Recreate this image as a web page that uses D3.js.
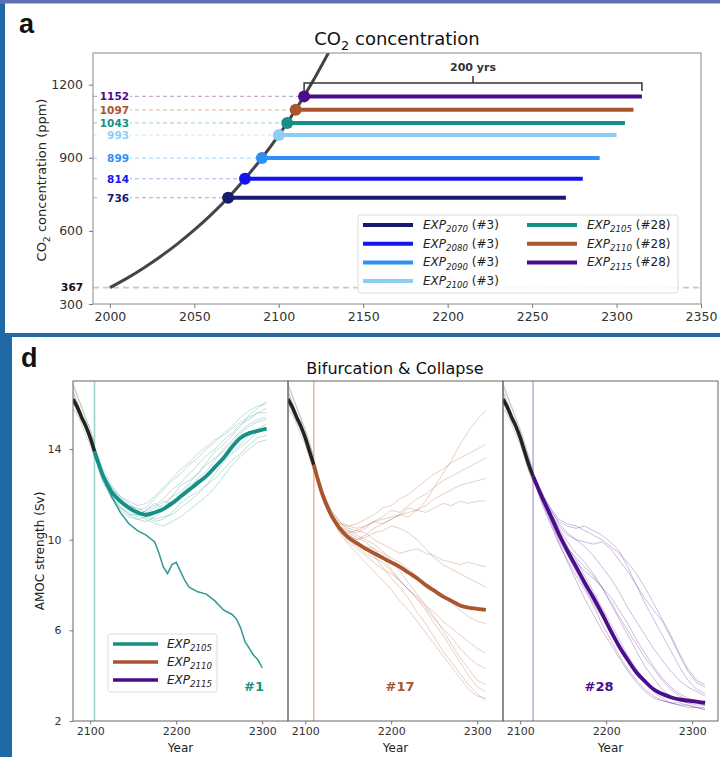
<!DOCTYPE html>
<html><head><meta charset="utf-8">
<script src="https://cdn.jsdelivr.net/npm/d3@7"></script>
<style>body{margin:0;background:#1f69a6;} svg{display:block;font-family:"DejaVu Sans",sans-serif;}</style>
</head><body><svg id="c" width="720" height="757"></svg>
<script>
// ---------------- DATA: panel a ----------------
const co2Years  = [2000,2010,2020,2030,2040,2050,2060,2070,2080,2090,2100,2110,2120,2130];
const co2Values = [367,405,448,495,547,604,667,736,814,899,993,1097,1212,1338];
const expStart  = [2070,2080,2090,2100,2105,2110,2115];
const expCO2    = [736,814,899,993,1043,1097,1152];
const expMember = ["#3","#3","#3","#3","#28","#28","#28"];
const expDuration = 200;
const baselineCO2 = 367;
const xTicksA = [2000,2050,2100,2150,2200,2250,2300,2350];
const yTicksA = [300,600,900,1200];

// ---------------- DATA: panel d ----------------
const dExperiments = [2105,2110,2115];
const dMemberLabel = ["#1","#17","#28"];
const xTicksD = [2100,2200,2300];
const yTicksD = [2,6,10,14];
const preYears = [2080,2085,2090,2095,2100,2105,2110,2115];
const preMean  = [16.2,15.85,15.4,15.0,14.5,13.9,13.3,12.8];
const preEnsemble = [
 [16.8,16.3,15.9,15.3,14.9,14.3,13.6,13.1],
 [16.5,16.1,15.5,15.2,14.6,14.1,13.5,12.9],
 [16.0,15.7,15.2,14.9,14.3,13.7,13.1,12.5],
 [15.8,15.5,15.1,14.6,14.2,13.6,13.0,12.6],
 [16.6,15.9,15.6,14.9,14.4,13.9,13.4,12.7],
 [16.3,16.0,15.3,15.1,14.7,14.0,13.2,12.9],
 [16.1,15.6,15.4,14.8,14.5,13.8,13.5,12.6],
 [16.9,16.4,15.8,15.4,14.8,14.2,13.7,13.0]
];
// post-start values every 10 years from start year to start+200
const mean2105 = [13.9,12.8,12.1,11.7,11.4,11.2,11.1,11.2,11.35,11.6,11.9,12.2,12.5,12.8,13.2,13.6,14.1,14.5,14.7,14.8,14.9];
const ens2105 = [
 [13.9,12.9,12.3,11.9,11.6,11.3,11.4,11.8,12.2,12.6,12.9,13.3,13.6,14.0,14.3,14.7,15.0,15.4,15.7,15.9,16.0],
 [13.8,12.6,11.8,11.3,11.0,10.9,10.8,11.0,11.3,11.5,11.8,12.2,12.7,13.0,13.5,14.0,14.4,14.8,15.1,15.3,15.4],
 [14.0,13.0,12.2,11.8,11.5,11.3,11.1,10.9,11.0,11.1,11.4,11.7,12.0,12.4,12.7,13.1,13.5,13.8,14.2,14.5,14.6],
 [13.7,12.5,11.9,11.4,11.2,11.0,11.3,11.6,11.4,11.9,12.4,12.6,12.9,13.4,13.9,14.2,14.6,15.0,15.5,15.8,16.1],
 [13.9,12.7,12.0,11.6,11.3,11.1,10.9,10.7,10.6,10.8,11.0,11.3,11.6,11.9,12.3,12.8,13.3,13.7,14.0,14.3,14.4],
 [14.1,13.1,12.4,11.9,11.7,11.5,11.6,11.9,12.3,12.7,13.1,13.4,13.8,14.1,14.4,14.6,14.9,15.2,15.4,15.6,15.8],
 [13.8,12.8,12.1,11.5,11.1,10.9,11.0,11.2,11.6,11.9,12.1,12.5,12.9,13.3,13.6,13.9,14.3,14.7,15.0,15.2,15.3],
 [13.9,12.9,12.2,11.7,11.4,11.2,11.0,10.8,10.9,11.2,11.6,11.9,12.1,12.4,12.9,13.4,13.8,14.1,14.4,14.8,14.9],
 [13.8,12.7,11.9,11.4,11.1,11.1,11.3,11.5,11.8,12.2,12.5,12.9,13.3,13.7,14.0,14.4,14.7,15.1,15.3,15.6,15.6],
 [14.0,12.9,12.3,11.8,11.5,11.4,11.2,11.4,11.7,11.6,12.0,12.4,12.6,12.8,13.1,13.5,13.9,14.2,14.6,14.9,15.1]
];
const collapseYears  = [2105,2115,2125,2135,2145,2155,2165,2175,2180,2185,2190,2195,2200,2205,2210,2215,2225,2235,2245,2255,2265,2270,2275,2280,2285,2290,2295,2300];
const collapseValues = [13.9,12.8,11.9,11.2,10.7,10.4,10.2,9.9,9.4,8.8,8.5,8.9,9.0,8.6,8.2,7.9,7.7,7.6,7.3,6.9,6.7,6.5,6.1,5.5,5.2,4.9,4.7,4.35];

const mean2110 = [13.3,12.0,11.1,10.5,10.1,9.85,9.6,9.4,9.2,9.0,8.8,8.55,8.3,8.0,7.75,7.5,7.3,7.1,7.0,6.95,6.9];
const ens2110 = [
 [13.3,12.1,11.3,10.8,10.6,10.5,10.6,10.8,10.9,11.0,11.1,11.2,11.3,11.7,12.3,12.9,13.5,14.2,14.8,15.3,15.7],
 [13.2,12.0,11.1,10.7,10.6,10.7,10.9,11.1,11.4,11.5,11.8,12.0,12.3,12.6,12.9,13.1,13.4,13.6,13.8,14.0,14.2],
 [13.4,12.2,11.3,10.8,10.4,10.3,10.5,10.8,11.0,11.3,11.2,11.5,11.8,12.0,12.3,12.6,12.8,13.0,13.2,13.4,13.6],
 [13.3,12.0,11.2,10.6,10.2,10.0,10.2,10.5,10.7,10.9,11.1,11.0,11.3,11.5,11.8,12.0,12.2,12.4,12.5,12.6,12.7],
 [13.2,11.9,11.0,10.5,10.3,10.4,10.6,10.8,10.7,10.9,11.1,11.4,11.3,11.2,11.4,11.6,11.5,11.7,11.6,11.7,11.7],
 [13.3,12.1,11.2,10.6,10.2,10.0,10.1,10.3,10.4,10.6,10.5,10.3,10.0,9.6,9.2,8.9,8.7,8.5,8.3,8.1,7.9],
 [13.3,12.0,11.0,10.4,10.0,9.7,9.4,9.2,9.0,8.6,8.2,7.8,7.5,7.1,6.8,6.4,6.1,5.8,5.5,5.2,5.0],
 [13.2,11.9,11.0,10.3,9.8,9.4,9.0,8.6,8.2,7.8,7.3,6.9,6.4,5.9,5.4,4.9,4.4,3.9,3.4,3.1,3.0],
 [13.4,12.1,11.1,10.5,10.1,9.8,9.6,9.3,8.8,8.3,7.9,7.4,6.8,6.3,5.7,5.1,4.6,4.1,3.6,3.2,2.9],
 [13.3,12.1,11.2,10.6,10.3,10.1,9.9,9.6,9.2,8.7,8.2,7.8,7.4,6.9,6.3,5.8,5.2,4.6,4.0,3.5,3.3],
 [13.2,12.0,11.1,10.6,10.4,10.2,10.0,9.8,9.5,9.1,8.6,8.1,7.6,7.1,6.6,6.0,5.4,4.8,4.3,3.8,3.6],
 [13.3,11.9,11.0,10.4,9.9,9.6,9.3,9.0,8.7,8.5,8.2,7.8,7.4,7.0,6.5,6.1,5.7,5.2,4.8,4.5,4.3],
 [13.3,12.1,11.2,10.7,10.5,10.4,10.3,10.0,9.8,9.6,9.4,9.5,9.6,9.4,9.3,9.1,9.0,8.9,9.0,8.9,8.8],
 [13.2,12.0,11.1,10.5,10.1,9.9,9.7,9.6,9.4,9.2,9.0,8.7,8.4,8.1,7.8,7.5,7.2,6.9,6.6,6.4,6.3]
];

const mean2115 = [12.8,11.9,11.1,10.25,9.5,8.8,8.1,7.45,6.75,6.0,5.3,4.7,4.15,3.75,3.4,3.2,3.05,2.95,2.9,2.85,2.8];
const ens2115 = [
 [12.8,12.0,11.3,10.8,10.6,10.5,10.6,10.4,10.2,9.9,9.5,8.8,8.0,7.2,6.5,5.8,5.1,4.4,3.8,3.4,3.2],
 [12.9,12.1,11.2,10.6,10.2,10.0,9.9,9.8,9.9,9.6,9.1,8.6,8.0,7.4,6.9,6.4,5.7,4.9,4.2,3.7,3.5],
 [12.7,11.8,10.9,10.1,9.5,9.0,8.6,8.3,7.9,7.5,6.9,6.3,5.6,5.0,4.4,3.9,3.5,3.2,3.0,2.9,2.8],
 [12.8,11.7,10.8,9.9,9.0,8.2,7.4,6.7,6.0,5.4,4.8,4.2,3.7,3.3,3.0,2.9,2.8,2.7,2.7,2.6,2.6],
 [12.9,11.9,11.0,10.2,9.6,9.2,8.8,8.4,7.9,7.2,6.5,5.8,5.1,4.4,3.9,3.4,3.1,2.9,2.8,2.7,2.7],
 [12.8,11.6,10.7,9.8,9.1,8.4,7.8,7.1,6.3,5.6,4.9,4.3,3.8,3.4,3.1,2.9,2.8,2.8,2.7,2.6,2.5],
 [12.7,11.9,11.2,10.5,9.9,9.4,9.0,8.5,7.9,7.3,6.6,6.0,5.4,4.8,4.3,3.8,3.4,3.1,2.9,2.8,2.9],
 [12.8,12.0,11.2,10.4,9.7,9.1,8.4,7.7,7.0,6.3,5.6,4.9,4.3,3.8,3.4,3.1,3.0,2.9,2.8,2.8,2.7],
 [12.9,12.1,11.4,10.7,10.3,10.0,9.7,9.3,8.8,8.3,7.7,7.0,6.4,5.8,5.2,4.7,4.2,3.8,3.5,3.3,3.1],
 [12.8,11.8,10.9,10.0,9.3,8.6,7.9,7.2,6.6,6.0,5.3,4.7,4.2,3.7,3.3,3.0,2.8,2.7,2.6,2.6,2.5],
 [12.8,12.0,11.4,10.9,10.7,10.6,10.4,10.2,10.0,9.7,9.4,9.0,8.5,7.9,7.2,6.5,5.8,5.0,4.3,3.8,3.6]
];
const dMeans = [mean2105, mean2110, mean2115];
const dEnsembles = [ens2105, ens2110, ens2115];

// ---------------- STYLES ----------------
const expColors = ["#191970","#1414f0","#2f8ff5","#8ccdf8","#168f87","#a9552e","#4b0d8a"];
const dColors = ["#168f87","#a9552e","#4b0d8a"];
const dLight  = ["#9fd3cf","#e6bca8","#c5ade0"];

const svg = d3.select("#c");
svg.append("rect").attr("width",720).attr("height",757).attr("fill","#1f69a6");
svg.append("rect").attr("width",720).attr("height",4).attr("fill","#5d72b6");
svg.append("rect").attr("x",5).attr("y",3.5).attr("width",715).attr("height",329.5).attr("fill","#fff");

function subText(sel, base, sub, rest, size, italic){
  const t1 = sel.append("tspan").text(base); if(italic) t1.attr("font-style","italic");
  const t2 = sel.append("tspan").attr("dy", size*0.28).attr("font-size", size*0.72).text(sub); if(italic) t2.attr("font-style","italic");
  if(rest!==null) sel.append("tspan").attr("dy", -size*0.28).text(rest);
}

// ================= PANEL a =================
const A = {l:93, r:701, t:53, b:304};
const xA = d3.scaleLinear().domain([1990,2350]).range([A.l,A.r]);
const yA = d3.scaleLinear().domain([300,1330]).range([A.b,A.t]);
const gA = svg.append("g");
gA.append("clipPath").attr("id","clipA").append("rect").attr("x",A.l).attr("y",A.t).attr("width",A.r-A.l).attr("height",A.b-A.t);

gA.append("line").attr("x1",A.l).attr("x2",A.r).attr("y1",yA(baselineCO2)).attr("y2",yA(baselineCO2))
  .attr("stroke","#c8c8c8").attr("stroke-width",1.6).attr("stroke-dasharray","6,4");
gA.append("text").attr("x",83).attr("y",yA(baselineCO2)).attr("dy","0.35em").attr("text-anchor","end")
  .attr("font-size",10.5).attr("font-weight","bold").attr("fill","#111").text(baselineCO2);

expStart.forEach((s,i)=>{
  gA.append("line").attr("x1",A.l).attr("x2",xA(s)).attr("y1",yA(expCO2[i])).attr("y2",yA(expCO2[i]))
    .attr("stroke",expColors[i]).attr("stroke-opacity",0.35).attr("stroke-width",1.2).attr("stroke-dasharray","4,3");
});
expStart.forEach((s,i)=>{
  gA.append("rect").attr("x",99).attr("y",yA(expCO2[i])-6).attr("width",31).attr("height",12).attr("fill","#fff");
  gA.append("text").attr("x",129).attr("y",yA(expCO2[i])).attr("dy","0.36em").attr("text-anchor","end")
    .attr("font-size",10.5).attr("font-weight","bold").attr("fill",expColors[i]).text(expCO2[i]);
});
expStart.forEach((s,i)=>{
  gA.append("line").attr("x1",xA(s)).attr("x2",xA(s+expDuration)).attr("y1",yA(expCO2[i])).attr("y2",yA(expCO2[i]))
    .attr("stroke",expColors[i]).attr("stroke-width",4);
});
const co2Line = d3.line().x((d,i)=>xA(co2Years[i])).y(d=>yA(d)).curve(d3.curveMonotoneX);
gA.append("path").attr("d",co2Line(co2Values)).attr("fill","none").attr("stroke","#444").attr("stroke-width",3)
  .attr("clip-path","url(#clipA)");
expStart.forEach((s,i)=>{
  gA.append("circle").attr("cx",xA(s)).attr("cy",yA(expCO2[i])).attr("r",6).attr("fill",expColors[i]);
});
const yb = 83, s0 = expStart[6], s1 = expStart[6]+expDuration, sm = (s0+s1)/2;
gA.append("path").attr("d",`M${xA(s0)},${yb+8}V${yb}H${xA(s1)}V${yb+8}M${xA(sm)},${yb}V${yb-7}`)
  .attr("fill","none").attr("stroke","#333").attr("stroke-width",1.5);
gA.append("text").attr("x",xA(sm)).attr("y",71).attr("text-anchor","middle").attr("font-size",11)
  .attr("font-weight","bold").attr("fill","#333").text(expDuration+" yrs");

const axA = gA.append("g").attr("transform",`translate(0,${A.b})`)
  .call(d3.axisBottom(xA).tickValues(xTicksA).tickFormat(d3.format("d")).tickSize(4).tickPadding(4));
const ayA = gA.append("g").attr("transform",`translate(${A.l},0)`)
  .call(d3.axisLeft(yA).tickValues(yTicksA).tickFormat(d3.format("d")).tickSize(4).tickPadding(6));
[axA,ayA].forEach(a=>{a.select(".domain").remove(); a.selectAll("text").attr("font-size",12.5).attr("fill","#333").attr("font-family","DejaVu Sans");
  a.selectAll("line").attr("stroke","#777");});
gA.append("rect").attr("x",A.l).attr("y",A.t).attr("width",A.r-A.l).attr("height",A.b-A.t)
  .attr("fill","none").attr("stroke","#8a8a8a").attr("stroke-width",1);

const lg = gA.append("g");
lg.append("rect").attr("x",358).attr("y",215).attr("width",320).attr("height",78).attr("rx",3)
  .attr("fill","#fff").attr("fill-opacity",0.85).attr("stroke","#ddd");
expStart.forEach((s,i)=>{
  const col = i<4?0:1, row = i<4?i:i-4;
  const x0 = col===0?363:527, y0 = 225+row*18.7;
  lg.append("line").attr("x1",x0).attr("x2",x0+50).attr("y1",y0).attr("y2",y0).attr("stroke",expColors[i]).attr("stroke-width",4);
  const t = lg.append("text").attr("x",x0+60).attr("y",y0+4).attr("font-size",12).attr("fill","#222");
  subText(t,"EXP",String(s)," ("+expMember[i]+")",12,true);
});

const ta = gA.append("text").attr("x",397).attr("y",45).attr("text-anchor","middle").attr("font-size",18).attr("fill","#111");
subText(ta,"CO","2"," concentration",18,false);
gA.append("text").attr("x",19).attr("y",33).attr("font-family","Liberation Sans").attr("font-weight","bold").attr("font-size",27).attr("fill","#111").text("a");
const yl = gA.append("text").attr("transform","translate(46,180) rotate(-90)").attr("text-anchor","middle").attr("font-size",13).attr("fill","#222");
subText(yl,"CO","2"," concentration (ppm)",13,false);
gA.append("text").attr("x",397).attr("y",342).attr("text-anchor","middle").attr("font-size",13).attr("fill","#222").text("Year");

// ================= PANEL d =================
svg.append("rect").attr("x",0).attr("y",333).attr("width",720).attr("height",4).attr("fill","#1f69a6");
svg.append("rect").attr("x",12).attr("y",337).attr("width",708).attr("height",420).attr("fill","#fff");
svg.append("text").attr("x",21).attr("y",367).attr("font-family","Liberation Sans").attr("font-weight","bold").attr("font-size",27).attr("fill","#111").text("d");
svg.append("text").attr("x",395).attr("y",374).attr("text-anchor","middle").attr("font-size",16).attr("fill","#111").text("Bifurcation & Collapse");

const D = {t:381, b:721, w:215};
const dLefts = [73,288,503];
const yD = d3.scaleLinear().domain([2,17]).range([D.b,D.t]);

dExperiments.forEach((start,k)=>{
  const L = dLefts[k];
  const xD = d3.scaleLinear().domain([2080,2330]).range([L,L+D.w]);
  const g = svg.append("g");
  g.append("clipPath").attr("id","clipD"+k).append("rect").attr("x",L).attr("y",D.t).attr("width",D.w).attr("height",D.b-D.t);
  const gc = g.append("g").attr("clip-path",`url(#clipD${k})`);
  const postYears = d3.range(0,21).map(j=>start+j*10);
  const ln = (ys)=>d3.line().x((d,i)=>xD(ys[i])).y(d=>yD(d));
  const lnS = (ys)=>d3.line().x((d,i)=>xD(ys[i])).y(d=>yD(d)).curve(d3.curveMonotoneX);
  dEnsembles[k].forEach(m=>{
    gc.append("path").attr("d",ln(postYears)(m)).attr("fill","none").attr("stroke",dColors[k]).attr("stroke-opacity",0.28).attr("stroke-width",1);
  });
  gc.append("line").attr("x1",xD(start)).attr("x2",xD(start)).attr("y1",D.t).attr("y2",D.b).attr("stroke",dLight[k]).attr("stroke-width",1.6);
  const nPre = preYears.filter(y=>y<=start).length;
  const py = preYears.slice(0,nPre);
  preEnsemble.forEach(m=>{
    gc.append("path").attr("d",ln(py)(m.slice(0,nPre))).attr("fill","none").attr("stroke","#777").attr("stroke-opacity",0.3).attr("stroke-width",1);
  });
  gc.append("path").attr("d",lnS(py)(preMean.slice(0,nPre))).attr("fill","none").attr("stroke","#222").attr("stroke-width",3.5);
  if(k===0){
    gc.append("path").attr("d",ln(collapseYears)(collapseValues)).attr("fill","none").attr("stroke",dColors[0]).attr("stroke-opacity",0.9).attr("stroke-width",1.5);
  }
  gc.append("path").attr("d",lnS(postYears)(dMeans[k])).attr("fill","none").attr("stroke",dColors[k]).attr("stroke-width",3.8);
  const ax = g.append("g").attr("transform",`translate(0,${D.b})`)
    .call(d3.axisBottom(xD).tickValues(xTicksD).tickFormat(d3.format("d")).tickSize(3.5).tickPadding(3));
  ax.select(".domain").remove();
  ax.selectAll("text").attr("font-size",11).attr("fill","#333").attr("font-family","DejaVu Sans");
  ax.selectAll("line").attr("stroke","#777");
  if(k===0){
    const ay = g.append("g").attr("transform",`translate(${L},0)`)
      .call(d3.axisLeft(yD).tickValues(yTicksD).tickSize(3.5).tickPadding(8));
    ay.select(".domain").remove();
    ay.selectAll("text").attr("font-size",11).attr("fill","#333").attr("font-family","DejaVu Sans");
    ay.selectAll("line").attr("stroke","#777");
  }
  g.append("rect").attr("x",L).attr("y",D.t).attr("width",D.w).attr("height",D.b-D.t).attr("fill","none").attr("stroke","#666").attr("stroke-width",1);
  g.append("text").attr("x",L+D.w/2).attr("y",752).attr("text-anchor","middle").attr("font-size",12).attr("fill","#222").text("Year");
  const lx = [254,400,599][k];
  g.append("text").attr("x",lx).attr("y",691).attr("text-anchor","middle").attr("font-size",13).attr("font-weight","bold").attr("fill",dColors[k]).text(dMemberLabel[k]);
});
svg.append("text").attr("transform","translate(44,551) rotate(-90)").attr("text-anchor","middle").attr("font-size",12).attr("fill","#222").text("AMOC strength (Sv)");

const ld = svg.append("g");
ld.append("rect").attr("x",108).attr("y",634).attr("width",109).attr("height",58).attr("rx",3).attr("fill","#fff").attr("fill-opacity",0.85).attr("stroke","#ddd");
dExperiments.forEach((s,i)=>{
  const y0 = 644+i*18;
  ld.append("line").attr("x1",113).attr("x2",158).attr("y1",y0).attr("y2",y0).attr("stroke",dColors[i]).attr("stroke-width",3.5);
  const t = ld.append("text").attr("x",167).attr("y",y0+4).attr("font-size",12).attr("fill","#222");
  subText(t,"EXP",String(s),null,12,true);
});
</script></body></html>
